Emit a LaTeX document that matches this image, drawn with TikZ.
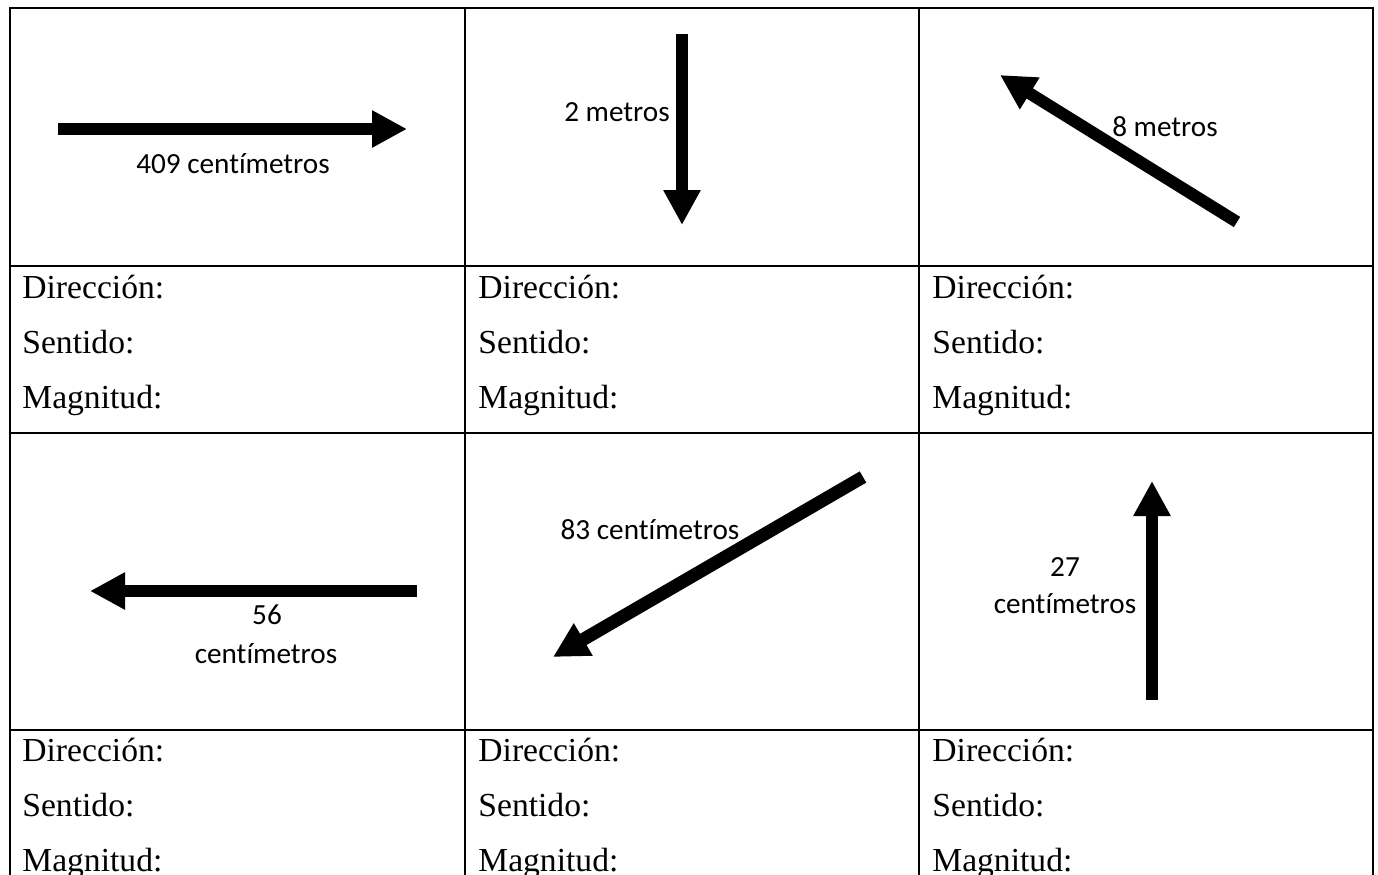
\documentclass[tikz,border=0pt]{standalone}
\usepackage{fontspec}
\setmainfont{Liberation Serif}
\newfontfamily\calibri[Ligatures=NoCommon]{Carlito}
\usetikzlibrary{arrows.meta}

\begin{document}
\begin{tikzpicture}[x=0.5pt,y=-0.5pt,
	vec/.style={line width=6pt,-{Triangle[length=17.5pt,width=17.5pt]}},
	etiq/.style={font=\calibri\fontsize{14.6}{17}\selectfont,anchor=base,inner sep=0pt},
	campo/.style={font=\fontsize{16.8}{20}\selectfont,anchor=base west,inner sep=0pt}]
		\useasboundingbox (0,0) rectangle (1378,874);
		\clip (0,0) rectangle (1378,874);
		
		% tabla
		\draw[line width=1pt] (10,900) -- (10,8) -- (1373,8) -- (1373,900);
		\draw[line width=1pt] (465,8) -- (465,900);
		\draw[line width=1pt] (919,8) -- (919,900);
		\draw[line width=1pt] (10,266) -- (1373,266);
		\draw[line width=1pt] (10,433) -- (1373,433);
		\draw[line width=1pt] (10,730) -- (1373,730);
		
		% vectores
		\coordinate (a1) at (58,129);   \coordinate (b1) at (407,129);
		\coordinate (a2) at (682,34);   \coordinate (b2) at (682,225);
		\coordinate (a3) at (1237,222); \coordinate (b3) at (1000,75);
		\coordinate (a4) at (417,591);  \coordinate (b4) at (90,591);
		\coordinate (a5) at (863,477);  \coordinate (b5) at (553,657);
		\coordinate (a6) at (1152,700); \coordinate (b6) at (1152,481);
		\draw[vec] (a1) -- (b1);
		\draw[vec] (a2) -- (b2);
		\draw[vec] (a3) -- (b3);
		\draw[vec] (a4) -- (b4);
		\draw[vec,line width=6.5pt] (a5) -- (b5);
		\draw[vec] (a6) -- (b6);
		
		\node[etiq] (m1) at (233,173) {409 centímetros};
		\node[etiq] (m2) at (617,121) {2 metros};
		\node[etiq] (m3) at (1165,136) {8 metros};
		\node[etiq] (m4) at (267,624) {56};
		\node[etiq] (m4b) at (266,663) {centímetros};
		\node[etiq] (m5) at (650,539) {83 centímetros};
		\node[etiq] (m6) at (1065,576) {27};
		\node[etiq] (m6b) at (1065,613) {centímetros};
		
		% campos
		\node[campo] (dir1) at (22,298) {Dirección:};
		\node[campo] (sen1) at (22,353) {Sentido:};
		\node[campo] (mag1) at (22,408) {Magnitud:};
		\node[campo] (dir2) at (478,298) {Dirección:};
		\node[campo] (sen2) at (478,353) {Sentido:};
		\node[campo] (mag2) at (478,408) {Magnitud:};
		\node[campo] (dir3) at (932,298) {Dirección:};
		\node[campo] (sen3) at (932,353) {Sentido:};
		\node[campo] (mag3) at (932,408) {Magnitud:};
		\node[campo] (dir4) at (22,761) {Dirección:};
		\node[campo] (sen4) at (22,816) {Sentido:};
		\node[campo] (mag4) at (22,871) {Magnitud:};
		\node[campo] (dir5) at (478,761) {Dirección:};
		\node[campo] (sen5) at (478,816) {Sentido:};
		\node[campo] (mag5) at (478,871) {Magnitud:};
		\node[campo] (dir6) at (932,761) {Dirección:};
		\node[campo] (sen6) at (932,816) {Sentido:};
		\node[campo] (mag6) at (932,871) {Magnitud:};
	\end{tikzpicture}
\end{document}
